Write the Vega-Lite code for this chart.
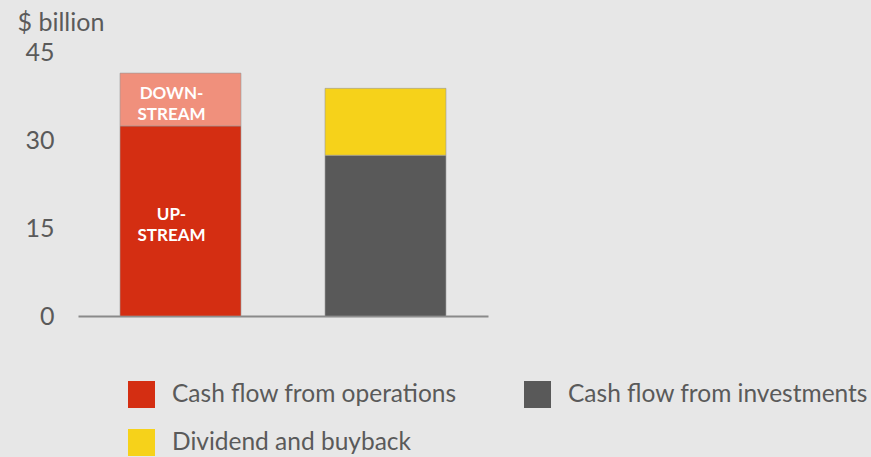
{
  "$schema": "https://vega.github.io/schema/vega-lite/v6.json",
  "autosize": "none",
  "width": 410,
  "height": 264,
  "padding": {"left": 78, "top": 52, "right": 383, "bottom": 141},
  "background": "#e7e7e7",
  "config": {
    "view": {"stroke": null},
    "font": "Lato",
    "text": {"font": "Lato"}
  },
  "data": {
    "values": [
      {"bar": "Sources", "segment": "Cash flow from operations", "value": 32.4, "label": "UP-\nSTREAM", "rank": 1},
      {"bar": "Sources", "segment": "Downstream", "value": 9.0, "label": "DOWN-\nSTREAM", "rank": 2},
      {"bar": "Uses", "segment": "Cash flow from investments", "value": 27.4, "label": "", "rank": 1},
      {"bar": "Uses", "segment": "Dividend and buyback", "value": 11.4, "label": "", "rank": 2}
    ]
  },
  "transform": [
    {"stack": "value", "groupby": ["bar"], "sort": [{"field": "rank", "order": "ascending"}], "as": ["v0", "v1"]},
    {"calculate": "(datum.v0 + datum.v1) / 2", "as": "mid"}
  ],
  "encoding": {
    "x": {
      "field": "bar",
      "type": "nominal",
      "scale": {"paddingInner": 0.41, "paddingOuter": 0.205},
      "axis": {
        "title": null,
        "labels": false,
        "ticks": false,
        "domain": true,
        "domainColor": "#8a8a8a",
        "domainWidth": 2
      }
    }
  },
  "layer": [
    {
      "mark": {"type": "bar", "stroke": "#9a9a9a", "strokeWidth": 1, "strokeOpacity": 0.6},
      "encoding": {
        "y": {
          "field": "v0",
          "type": "quantitative",
          "scale": {"domain": [0, 45], "nice": false},
          "axis": {
            "values": [0, 15, 30, 45],
            "grid": false,
            "ticks": false,
            "domain": false,
            "labelFontSize": 25,
            "labelColor": "#5a5a5a",
            "labelPadding": 24,
            "title": "$ billion",
            "titleAngle": 0,
            "titleAlign": "left",
            "titleBaseline": "alphabetic",
            "titleX": -61,
            "titleY": -22,
            "titleFontSize": 25,
            "titleFontWeight": "normal",
            "titleColor": "#5a5a5a"
          }
        },
        "y2": {"field": "v1"},
        "color": {
          "field": "segment",
          "type": "nominal",
          "scale": {
            "domain": ["Cash flow from operations", "Downstream", "Cash flow from investments", "Dividend and buyback"],
            "range": ["#d42e12", "#f0907c", "#595959", "#f6d21a"]
          },
          "legend": {
            "values": ["Cash flow from operations", "Cash flow from investments", "Dividend and buyback"],
            "title": null,
            "orient": "none",
            "legendX": 50,
            "legendY": 329,
            "direction": "horizontal",
            "columns": 2,
            "padding": 0,
            "symbolType": "square",
            "symbolSize": 729,
            "symbolStrokeWidth": 0,
            "symbolOpacity": 1,
            "labelFontSize": 24.5,
            "labelColor": "#5a5a5a",
            "labelOffset": 17,
            "labelLimit": 400,
            "columnPadding": 67,
            "rowPadding": 21
          }
        }
      }
    },
    {
      "mark": {"type": "text", "color": "white", "fontWeight": "bold", "fontSize": 17, "lineBreak": "\n", "lineHeight": 21, "baseline": "middle", "align": "center", "dy": -6, "dx": -9},
      "encoding": {
        "y": {"field": "mid", "type": "quantitative"},
        "text": {"field": "label"}
      }
    }
  ]
}
